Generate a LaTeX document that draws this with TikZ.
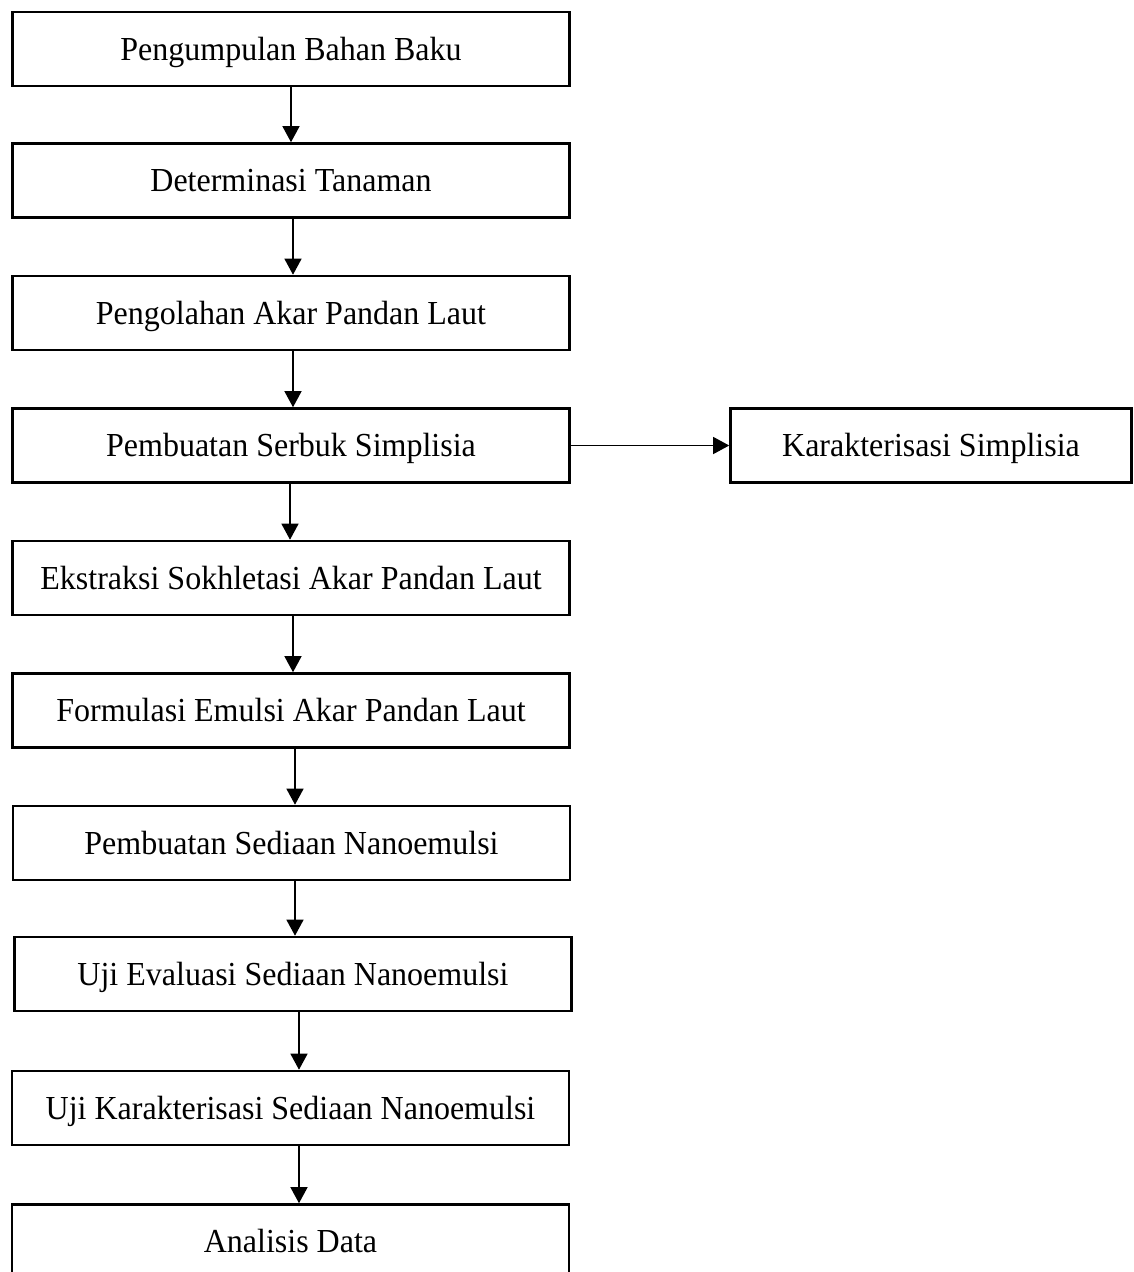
\documentclass[tikz,border=0pt]{standalone}
\usepackage{fontspec}
\usepackage{graphicx}
\setmainfont{Liberation Serif}
\usetikzlibrary{arrows.meta}
\newcommand{\boxtext}[1]{\scalebox{1}[1.05]{#1}}
\begin{document}
\begin{tikzpicture}[x=1pt,y=-1pt,
  box/.style={draw=black, line width=2.6pt, rectangle, minimum width=557pt, minimum height=74pt,
    inner sep=0pt, text height=22pt, text depth=0pt, font=\fontsize{32}{36}\selectfont},
  arr/.style={draw=black, line width=1.3pt, -{Triangle[length=16pt,width=17pt]}}]
\clip (0,0) rectangle (1133,1272);
\fill[white] (0,0) rectangle (1133,1272);
\node[box] (b1) at (291,49) {\boxtext{Pengumpulan Bahan Baku}};
\node[box] (b2) at (291,180.5) {\boxtext{Determinasi Tanaman}};
\node[box] (b3) at (291,313) {\boxtext{Pengolahan Akar Pandan Laut}};
\node[box] (b4) at (291,445.5) {\boxtext{Pembuatan Serbuk Simplisia}};
\node[box, minimum width=401pt] (r) at (931,445.5) {\boxtext{Karakterisasi Simplisia}};
\node[box] (b5) at (291,578) {\boxtext{Ekstraksi Sokhletasi Akar Pandan Laut}};
\node[box] (b6) at (291,710.5) {\boxtext{Formulasi Emulsi Akar Pandan Laut}};
\node[box] (b7) at (291.5,843) {\boxtext{Pembuatan Sediaan Nanoemulsi}};
\node[box] (b8) at (293,974) {\boxtext{Uji Evaluasi Sediaan Nanoemulsi}};
\node[box] (b9) at (290.5,1108) {\boxtext{Uji Karakterisasi Sediaan Nanoemulsi}};
\node[box] (b10) at (290.5,1241.5) {\boxtext{Analisis Data}};
\draw[arr] ([xshift=0pt]b1.south) -- ([xshift=0pt]b1.south |- b2.north);
\draw[arr] ([xshift=2pt]b2.south) -- ([xshift=2pt]b2.south |- b3.north);
\draw[arr] ([xshift=2pt]b3.south) -- ([xshift=2pt]b3.south |- b4.north);
\draw[arr] ([xshift=-1pt]b4.south) -- ([xshift=-1pt]b4.south |- b5.north);
\draw[arr] ([xshift=2pt]b5.south) -- ([xshift=2pt]b5.south |- b6.north);
\draw[arr] ([xshift=4pt]b6.south) -- ([xshift=4pt]b6.south |- b7.north);
\draw[arr] ([xshift=3.5pt]b7.south) -- ([xshift=3.5pt]b7.south |- b8.north);
\draw[arr] ([xshift=6pt]b8.south) -- ([xshift=6pt]b8.south |- b9.north);
\draw[arr] ([xshift=8.5pt]b9.south) -- ([xshift=8.5pt]b9.south |- b10.north);
\draw[arr] (b4.east) -- (r.west);
\end{tikzpicture}
\end{document}
